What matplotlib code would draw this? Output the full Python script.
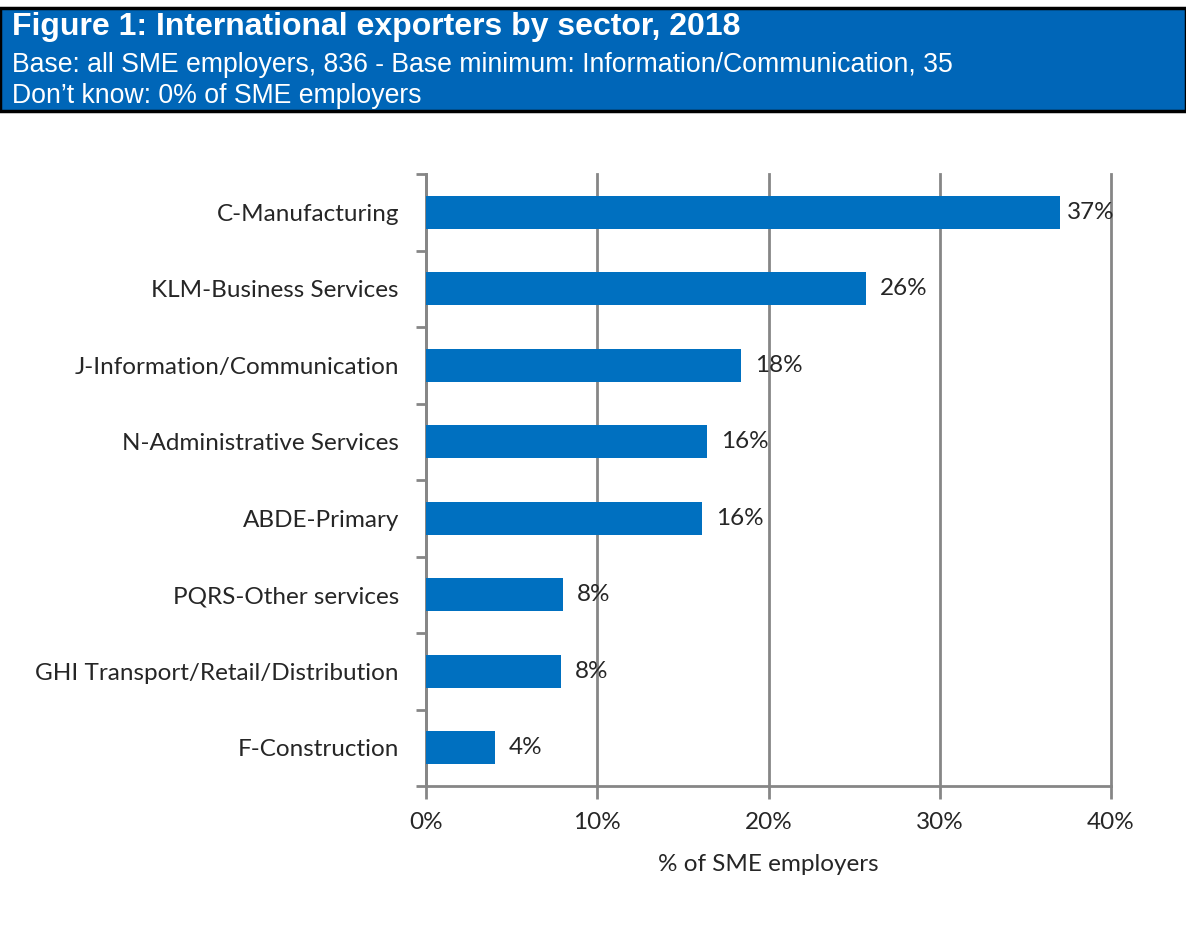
import matplotlib
matplotlib.use("Agg")
import matplotlib.pyplot as plt
from matplotlib.patches import Rectangle
from matplotlib.ticker import FuncFormatter, FixedLocator

# exporters share by sector, % of SME employers
sectors = [
    "C-Manufacturing",
    "KLM-Business Services",
    "J-Information/Communication",
    "N-Administrative Services",
    "ABDE-Primary",
    "PQRS-Other services",
    "GHI Transport/Retail/Distribution",
    "F-Construction",
]
shares = [37.0, 25.7, 18.4, 16.4, 16.1, 8.0, 7.9, 4.0]

title = "Figure 1: International exporters by sector, 2018"
subtitle_1 = "Base: all SME employers, 836 - Base minimum: Information/Communication, 35"
subtitle_2 = "Don\u2019t know: 0% of SME employers"

BAR_BLUE = "#0070C0"
HEAD_BLUE = "#0066B8"
GRID = "#868686"
TEXT = "#262626"
chart_font = "Lato"
FS = 17.5

fig = plt.figure(figsize=(11.86, 9.33), dpi=100)

# header band
fig.patches.append(Rectangle((0, 1 - 111 / 933), 1, 103 / 933, transform=fig.transFigure,
                             facecolor=HEAD_BLUE, edgecolor="black", linewidth=2.5))
fig.text(12 / 1186, 1 - 27 / 933, title, color="white", fontsize=23, fontweight="bold",
         family="Liberation Sans", va="center", ha="left")
fig.text(12 / 1186, 1 - 65 / 933, subtitle_1, color="white", fontsize=19.2,
         family="Liberation Sans", va="center", ha="left")
fig.text(12 / 1186, 1 - 96 / 933, subtitle_2, color="white", fontsize=19.2,
         family="Liberation Sans", va="center", ha="left")

ax = fig.add_axes([426 / 1186, 1 - 786 / 933, 685 / 1186, 612 / 933])
n = len(sectors)
ypos = list(range(n))
ax.barh(ypos, shares, height=0.43, color=BAR_BLUE, zorder=3)
ax.set_xlim(0, 40)
ax.set_ylim(n - 0.5, -0.5)

ax.set_xticks([0, 10, 20, 30, 40])
ax.xaxis.set_major_formatter(FuncFormatter(lambda v, p: f"{v:.0f}%"))
ax.grid(axis="x", color=GRID, linewidth=2, zorder=0)
for gl in ax.get_xgridlines():
    gl.set_clip_on(False)

# category labels sit between the boundary ticks
ax.set_yticks(ypos)
ax.set_yticklabels(sectors)
ax.yaxis.set_minor_locator(FixedLocator([i - 0.5 for i in range(n + 1)]))
ax.tick_params(axis="y", which="major", length=0, pad=19.5)
ax.tick_params(axis="y", which="minor", length=7, width=2, color=GRID)
ax.tick_params(axis="x", which="major", length=9, width=2, color=GRID, pad=10)
ax.tick_params(labelsize=FS, labelcolor=TEXT)
for lbl in ax.get_xticklabels() + ax.get_yticklabels():
    lbl.set_family(chart_font)

for side in ["top", "right"]:
    ax.spines[side].set_visible(False)
for side in ["left", "bottom"]:
    ax.spines[side].set_color(GRID)
    ax.spines[side].set_linewidth(2)

ax.set_xlabel("% of SME employers", fontsize=FS, color=TEXT, family=chart_font, labelpad=15)

for i, v in enumerate(shares):
    off = 5 if v > 35 else 10
    ax.annotate(f"{v:.0f}%", (v, i), xytext=(off, 0), textcoords="offset points",
                va="center", ha="left", fontsize=FS, color=TEXT, family=chart_font, zorder=4)

fig.savefig("out.png", dpi=100)
